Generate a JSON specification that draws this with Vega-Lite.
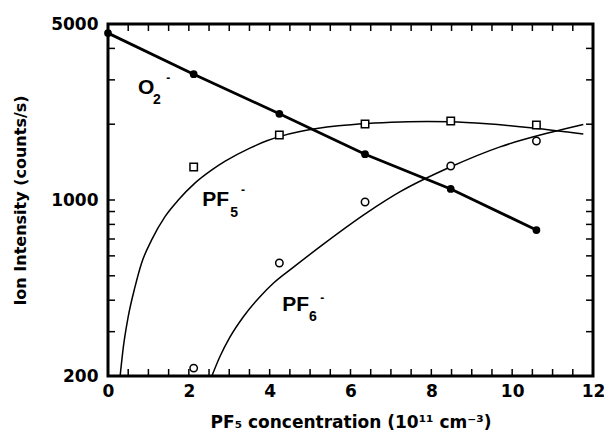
{
  "$schema": "https://vega.github.io/schema/vega-lite/v6.json",
  "width": 485,
  "height": 352,
  "autosize": "none",
  "padding": {"left": 108, "top": 24, "right": 11, "bottom": 60},
  "background": "white",
  "config": {
    "view": {"stroke": "black", "strokeWidth": 3},
    "font": "Liberation Sans",
    "axis": {
      "domain": false,
      "grid": false,
      "ticks": false,
      "labelFont": "DejaVu Sans",
      "labelFontWeight": "bold",
      "labelFontSize": 17,
      "labelColor": "black",
      "labelFlush": false,
      "labelOverlap": false,
      "labelBound": false,
      "titleFont": "DejaVu Sans",
      "titleFontWeight": "bold",
      "titleColor": "black"
    }
  },
  "datasets": {
    "xticks": [
      {"v": 0.5}, {"v": 1}, {"v": 1.5}, {"v": 2}, {"v": 2.5}, {"v": 3}, {"v": 3.5}, {"v": 4},
      {"v": 4.5}, {"v": 5}, {"v": 5.5}, {"v": 6}, {"v": 6.5}, {"v": 7}, {"v": 7.5}, {"v": 8},
      {"v": 8.5}, {"v": 9}, {"v": 9.5}, {"v": 10}, {"v": 10.5}, {"v": 11}, {"v": 11.5}
    ],
    "yticks": [
      {"v": 300}, {"v": 400}, {"v": 500}, {"v": 600}, {"v": 700}, {"v": 800}, {"v": 900},
      {"v": 1000}, {"v": 2000}, {"v": 3000}, {"v": 4000}
    ],
    "o2": [
      {"x": 0, "y": 4600}, {"x": 2.12, "y": 3160}, {"x": 4.24, "y": 2200},
      {"x": 6.36, "y": 1520}, {"x": 8.48, "y": 1106}, {"x": 10.6, "y": 760}
    ],
    "pf5pts": [
      {"x": 2.12, "y": 1352}, {"x": 4.24, "y": 1811}, {"x": 6.36, "y": 2004},
      {"x": 8.48, "y": 2060}, {"x": 10.6, "y": 1986}
    ],
    "pf6pts": [
      {"x": 2.12, "y": 215}, {"x": 4.24, "y": 562}, {"x": 6.36, "y": 982},
      {"x": 8.48, "y": 1365}, {"x": 10.6, "y": 1715}
    ],
    "pf5fit": [
      {"x": 0.30, "y": 200}, {"x": 0.38, "y": 261}, {"x": 0.50, "y": 344},
      {"x": 0.67, "y": 453}, {"x": 0.83, "y": 561}, {"x": 1.08, "y": 694},
      {"x": 1.41, "y": 859}, {"x": 1.74, "y": 1000}, {"x": 2.15, "y": 1167},
      {"x": 2.57, "y": 1317}, {"x": 2.90, "y": 1426}, {"x": 3.51, "y": 1607},
      {"x": 3.93, "y": 1718}, {"x": 4.26, "y": 1789}, {"x": 4.75, "y": 1870},
      {"x": 5.17, "y": 1922}, {"x": 5.70, "y": 1971}, {"x": 6.41, "y": 2014},
      {"x": 7.23, "y": 2042}, {"x": 7.90, "y": 2051}, {"x": 8.47, "y": 2046},
      {"x": 9.38, "y": 2009}, {"x": 10.52, "y": 1932}, {"x": 11.76, "y": 1828}
    ],
    "pf6fit": [
      {"x": 2.57, "y": 200}, {"x": 2.77, "y": 239}, {"x": 3.02, "y": 286},
      {"x": 3.35, "y": 344}, {"x": 3.76, "y": 413}, {"x": 4.09, "y": 467},
      {"x": 4.59, "y": 541}, {"x": 5.33, "y": 668}, {"x": 6.41, "y": 891},
      {"x": 7.23, "y": 1079}, {"x": 8.47, "y": 1352}, {"x": 9.7, "y": 1626},
      {"x": 10.94, "y": 1854}, {"x": 11.76, "y": 1995}
    ],
    "labels": [
      {"part": "main", "x": 0.74, "y": 2786, "t": "O"},
      {"part": "sub", "x": 1.21, "y": 2495, "t": "2"},
      {"part": "sup", "x": 1.49, "y": 3054, "t": "-"},
      {"part": "main", "x": 2.33, "y": 1000, "t": "PF"},
      {"part": "sub", "x": 3.12, "y": 887, "t": "5"},
      {"part": "sup", "x": 3.34, "y": 1096, "t": "-"},
      {"part": "main", "x": 4.31, "y": 383, "t": "PF"},
      {"part": "sub", "x": 5.07, "y": 343, "t": "6"},
      {"part": "sup", "x": 5.30, "y": 408, "t": "-"}
    ]
  },
  "layer": [
    {
      "data": {"name": "o2"},
      "mark": {"type": "line", "color": "black", "strokeWidth": 2.8, "clip": true},
      "encoding": {
        "x": {
          "field": "x", "type": "quantitative",
          "scale": {"domain": [0, 12], "nice": false, "zero": false},
          "axis": {
            "orient": "bottom",
            "values": [0, 2, 4, 6, 8, 10, 12],
            "format": "d",
            "labelPadding": 7,
            "title": "PF₅ concentration (10¹¹ cm⁻³)",
            "titleFontSize": 17,
            "titlePadding": 15
          }
        },
        "y": {
          "field": "y", "type": "quantitative",
          "scale": {"type": "log", "domain": [200, 5000], "nice": false, "zero": false},
          "axis": {
            "orient": "left",
            "values": [200, 1000, 5000],
            "format": "d",
            "labelPadding": 10,
            "labelBaseline": "middle",
            "title": "Ion Intensity (counts/s)",
            "titleFontSize": 16,
            "titlePadding": 22
          }
        }
      }
    },
    {
      "data": {"name": "xticks"},
      "mark": {"type": "tick", "color": "black", "orient": "vertical", "size": 7, "thickness": 1.5, "opacity": 1, "yOffset": -3.5},
      "encoding": {
        "x": {"field": "v", "type": "quantitative"},
        "y": {"datum": 200}
      }
    },
    {
      "data": {"name": "xticks"},
      "mark": {"type": "tick", "color": "black", "orient": "vertical", "size": 7, "thickness": 1.5, "opacity": 1, "yOffset": 3.5},
      "encoding": {
        "x": {"field": "v", "type": "quantitative"},
        "y": {"datum": 5000}
      }
    },
    {
      "data": {"name": "yticks"},
      "mark": {"type": "tick", "color": "black", "orient": "horizontal", "size": 7, "thickness": 1.5, "opacity": 1, "xOffset": 3.5},
      "encoding": {
        "y": {"field": "v", "type": "quantitative"},
        "x": {"datum": 0}
      }
    },
    {
      "data": {"name": "yticks"},
      "mark": {"type": "tick", "color": "black", "orient": "horizontal", "size": 7, "thickness": 1.5, "opacity": 1, "xOffset": -3.5},
      "encoding": {
        "y": {"field": "v", "type": "quantitative"},
        "x": {"datum": 12}
      }
    },
    {
      "data": {"name": "o2"},
      "mark": {"type": "point", "shape": "circle", "filled": true, "color": "black", "size": 60, "opacity": 1, "clip": false},
      "encoding": {
        "x": {"field": "x", "type": "quantitative"},
        "y": {"field": "y", "type": "quantitative"}
      }
    },
    {
      "data": {"name": "pf5fit"},
      "mark": {"type": "line", "color": "black", "strokeWidth": 1.5, "interpolate": "monotone", "clip": true},
      "encoding": {
        "x": {"field": "x", "type": "quantitative"},
        "y": {"field": "y", "type": "quantitative"}
      }
    },
    {
      "data": {"name": "pf6fit"},
      "mark": {"type": "line", "color": "black", "strokeWidth": 1.5, "interpolate": "monotone", "clip": true},
      "encoding": {
        "x": {"field": "x", "type": "quantitative"},
        "y": {"field": "y", "type": "quantitative"}
      }
    },
    {
      "data": {"name": "pf5pts"},
      "mark": {"type": "point", "shape": "square", "filled": false, "fill": "white", "stroke": "black", "strokeWidth": 1.5, "size": 55, "opacity": 1},
      "encoding": {
        "x": {"field": "x", "type": "quantitative"},
        "y": {"field": "y", "type": "quantitative"}
      }
    },
    {
      "data": {"name": "pf6pts"},
      "mark": {"type": "point", "shape": "circle", "filled": false, "fill": "white", "stroke": "black", "strokeWidth": 1.5, "size": 55, "opacity": 1},
      "encoding": {
        "x": {"field": "x", "type": "quantitative"},
        "y": {"field": "y", "type": "quantitative"}
      }
    },
    {
      "data": {"name": "labels"},
      "transform": [{"filter": "datum.part == 'main'"}],
      "mark": {"type": "text", "align": "left", "baseline": "middle", "fontSize": 21, "fontWeight": "bold", "font": "Liberation Sans", "color": "black"},
      "encoding": {
        "x": {"field": "x", "type": "quantitative"},
        "y": {"field": "y", "type": "quantitative"},
        "text": {"field": "t"}
      }
    },
    {
      "data": {"name": "labels"},
      "transform": [{"filter": "datum.part == 'sub'"}],
      "mark": {"type": "text", "align": "center", "baseline": "middle", "fontSize": 14, "fontWeight": "bold", "font": "Liberation Sans", "color": "black"},
      "encoding": {
        "x": {"field": "x", "type": "quantitative"},
        "y": {"field": "y", "type": "quantitative"},
        "text": {"field": "t"}
      }
    },
    {
      "data": {"name": "labels"},
      "transform": [{"filter": "datum.part == 'sup'"}],
      "mark": {"type": "text", "align": "center", "baseline": "middle", "fontSize": 12, "fontWeight": "bold", "font": "Liberation Sans", "color": "black"},
      "encoding": {
        "x": {"field": "x", "type": "quantitative"},
        "y": {"field": "y", "type": "quantitative"},
        "text": {"field": "t"}
      }
    }
  ]
}
